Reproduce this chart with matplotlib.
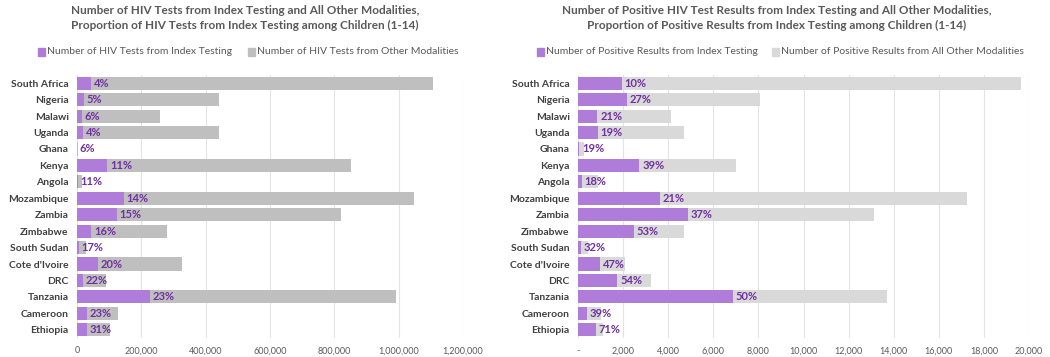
import numpy as np
import matplotlib.pyplot as plt
from matplotlib.ticker import FuncFormatter

paises = ["South Africa", "Nigeria", "Malawi", "Uganda", "Ghana", "Kenya", "Angola",
          "Mozambique", "Zambia", "Zimbabwe", "South Sudan", "Cote d'Ivoire", "DRC",
          "Tanzania", "Cameroon", "Ethiopia"]

# Pruebas de VIH (izquierda)
pruebas_indice = [44000, 22000, 15600, 19000, 300, 94000, 1700, 146000, 123000,
                  45000, 4800, 65000, 19600, 226000, 30000, 32000]
pruebas_total = [1107000, 441000, 259000, 440000, 4600, 852000, 15500, 1047000, 820000,
                 280000, 28000, 327000, 89000, 993000, 129000, 102000]
pct_pruebas = ["4%", "5%", "6%", "4%", "6%", "11%", "11%", "14%", "15%",
               "16%", "17%", "20%", "22%", "23%", "23%", "31%"]

# Resultados positivos (derecha)
positivos_indice = [1950, 2170, 860, 880, 50, 2720, 160, 3650, 4870,
                    2480, 145, 978, 1740, 6870, 390, 798]
positivos_total = [19660, 8060, 4120, 4710, 266, 7000, 900, 17250, 13130,
                   4700, 458, 2083, 3235, 13720, 1004, 1123]
pct_positivos = ["10%", "27%", "21%", "19%", "19%", "39%", "18%", "21%", "37%",
                 "53%", "32%", "47%", "54%", "50%", "39%", "71%"]

MORADO = "#B07CD9"
TEXTO_MORADO = "#7030A0"
GRIS_TEXTO = "#595959"

plt.rcParams["font.family"] = ["Lato", "DejaVu Sans"]

fig = plt.figure(figsize=(10.5, 3.57), dpi=100)
W, H = 1050, 357


def graficar(ax_px, indice, total, pcts, color_otros, xmax, paso, fmt, etiqueta_cero):
    x0, x1, ytop, ybot = ax_px
    ax = fig.add_axes([x0 / W, 1 - ybot / H, (x1 - x0) / W, (ybot - ytop) / H])
    y = np.arange(len(paises))
    otros = np.array(total) - np.array(indice)
    ax.barh(y, indice, height=0.8, color=MORADO, zorder=3)
    ax.barh(y, otros, left=indice, height=0.8, color=color_otros, zorder=3)
    for i, p in enumerate(pcts):
        ax.annotate(p, (indice[i], y[i]), xytext=(2, 0), textcoords="offset points",
                    ha="left", va="center", fontsize=8, fontweight="bold",
                    color=TEXTO_MORADO, zorder=4)
    ax.set_yticks(y)
    ax.set_yticklabels(paises, fontsize=7.5, fontweight="bold", color="#404040")
    ax.set_ylim(len(paises) - 0.5, -0.5)
    ax.set_xlim(0, xmax)
    ax.set_xticks(np.arange(0, xmax + 1, paso))
    ax.xaxis.set_major_formatter(FuncFormatter(
        lambda v, _: etiqueta_cero if v == 0 else fmt.format(int(v))))
    ax.tick_params(axis="x", labelsize=6.5, labelcolor=GRIS_TEXTO, length=0, pad=6)
    ax.tick_params(axis="y", length=0, pad=6)
    ax.grid(axis="x", color="#E3E3E3", lw=0.8, zorder=0)
    for s in ax.spines.values():
        s.set_visible(False)
    return ax


graficar((77, 463, 75, 338), pruebas_indice, pruebas_total, pct_pruebas,
         "#BFBFBF", 1200000, 200000, "{:,}", "0")
graficar((578, 1029, 75, 338), positivos_indice, positivos_total, pct_positivos,
         "#D9D9D9", 20000, 2000, "{:,}", "-")

# Titulos
fig.text(245 / W, 1 - 18 / H,
         "Number of HIV Tests from Index Testing and All Other Modalities,\n"
         "Proportion of HIV Tests from Index Testing among Children (1-14)",
         ha="center", va="center", fontsize=8.5, fontweight="bold",
         color=GRIS_TEXTO, linespacing=1.4)
fig.text(777 / W, 1 - 18 / H,
         "Number of Positive HIV Test Results from Index Testing and All Other Modalities,\n"
         "Proportion of Positive Results from Index Testing among Children (1-14)",
         ha="center", va="center", fontsize=8.5, fontweight="bold",
         color=GRIS_TEXTO, linespacing=1.4)

# Leyendas
def leyenda(x_px, texto, color):
    fig.patches.append(plt.Rectangle((x_px / W, 1 - 55.5 / H), 7 / W, 7 / H,
                                     transform=fig.transFigure, color=color))
    fig.text((x_px + 9) / W, 1 - 52 / H, texto, ha="left", va="center",
             fontsize=7.5, color=GRIS_TEXTO)

leyenda(38, "Number of HIV Tests from Index Testing", MORADO)
leyenda(248, "Number of HIV Tests from Other Modalities", "#BFBFBF")
leyenda(537, "Number of Positive Results from Index Testing", MORADO)
leyenda(772, "Number of Positive Results from All Other Modalities", "#D9D9D9")

fig.savefig("out.png", dpi=100)
